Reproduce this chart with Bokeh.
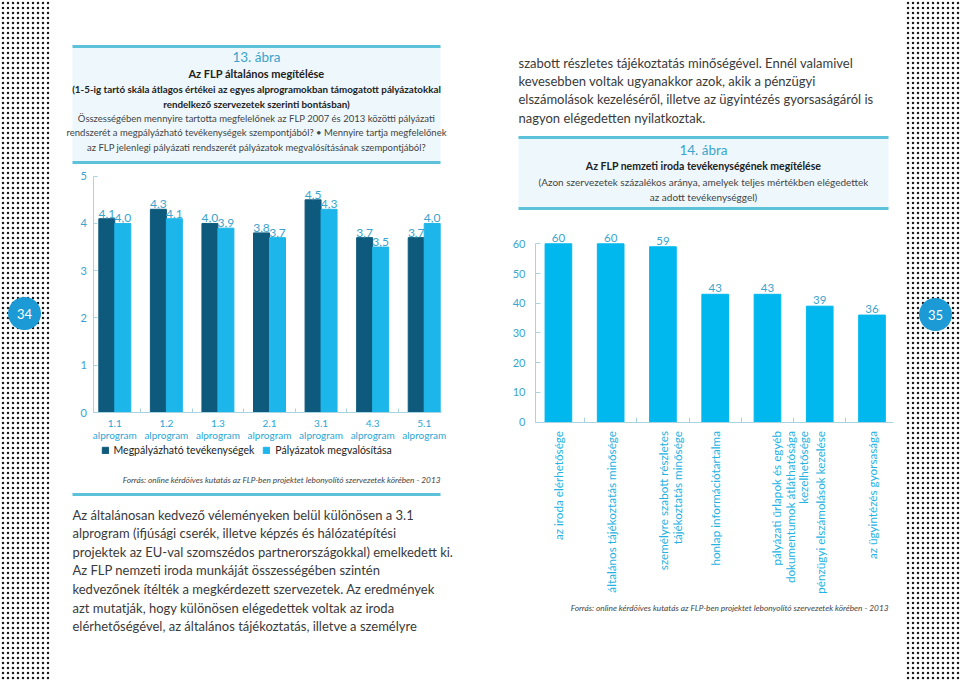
from math import pi
from bokeh.plotting import figure
from bokeh.models import Range1d, LinearAxis, FixedTicker, Legend, LegendItem, ColumnDataSource
from bokeh.core.properties import value
from bokeh.embed import file_html
from bokeh.resources import INLINE

# ---------------- data ----------------
chart1_categories = ["1.1\nalprogram", "1.2\nalprogram", "1.3\nalprogram", "2.1\nalprogram",
                     "3.1\nalprogram", "4.3\nalprogram", "5.1\nalprogram"]
chart1_series_names = ["Megpályázható tevékenységek", "Pályázatok megvalósítása"]
chart1_series_a = [4.1, 4.3, 4.0, 3.8, 4.5, 3.7, 3.7]
chart1_series_b = [4.0, 4.1, 3.9, 3.7, 4.3, 3.5, 4.0]
chart1_y_ticks = [0, 1, 2, 3, 4, 5]

chart2_categories = ["az iroda elérhetősége",
                     "általános tájékoztatás minősége",
                     "személyre szabott részletes\ntájékoztatás minősége",
                     "honlap információtartalma",
                     "pályázati űrlapok és egyéb\ndokumentumok átláthatósága\nkezelhetősége",
                     "pénzügyi elszámolások kezelése",
                     "az ügyintézés gyorsasága"]
chart2_values = [60, 60, 59, 43, 43, 39, 36]
chart2_y_ticks = [0, 10, 20, 30, 40, 50, 60]

header1_lines = ["13. ábra",
                 "Az FLP általános megítélése",
                 "(1-5-ig tartó skála átlagos értékei az egyes alprogramokban támogatott pályázatokkal",
                 "rendelkező szervezetek szerinti bontásban)",
                 "Összességében mennyire tartotta megfelelőnek az FLP 2007 és 2013 közötti pályázati",
                 "rendszerét a megpályázható tevékenységek szempontjából? • Mennyire tartja megfelelőnek",
                 "az FLP jelenlegi pályázati rendszerét pályázatok megvalósításának szempontjából?"]
header2_lines = ["14. ábra",
                 "Az FLP nemzeti iroda tevékenységének megítélése",
                 "(Azon szervezetek százalékos aránya, amelyek teljes mértékben elégedettek",
                 "az adott tevékenységgel)"]
source_text = "Forrás: online kérdőíves kutatás az FLP-ben projektet lebonyolító szervezetek körében - 2013"
left_paragraph = ["Az általánosan kedvező véleményeken belül különösen a 3.1",
                  "alprogram (ifjúsági cserék, illetve képzés és hálózatépítési",
                  "projektek az EU-val szomszédos partnerországokkal) emelkedett ki.",
                  "Az FLP nemzeti iroda munkáját összességében szintén",
                  "kedvezőnek ítélték a megkérdezett szervezetek. Az eredmények",
                  "azt mutatják, hogy különösen elégedettek voltak az iroda",
                  "elérhetőségével, az általános tájékoztatás, illetve a személyre"]
right_paragraph = ["szabott részletes tájékoztatás minőségével. Ennél valamivel",
                   "kevesebben voltak ugyanakkor azok, akik a pénzügyi",
                   "elszámolások kezeléséről, illetve az ügyintézés gyorsaságáról is",
                   "nagyon elégedetten nyilatkoztak."]
page_numbers = ["34", "35"]

# ---------------- styles ----------------
FONT_NAME = "Lato"
FONT = value(FONT_NAME)
DARK = "#0e5a7c"
LIGHT = "#1db6ea"
BAR2 = "#00b8ee"
LABEL_BLUE = "#3aa4cc"
AXIS_COL = "#a9d3e3"
TEAL_LINE = "#5cc2da"
BOX_BG = "#eef8fc"
TEXT_DARK = "#3a3a3a"

W, H = 960, 681
PX0, PY0 = 0, 0  # page position of the frame


def mapped_range(p1, v1, p2, v2, lo, hi):
    def f(p):
        return v1 + (p - p1) * (v2 - v1) / (p2 - p1)
    return Range1d(f(lo), f(hi)), f


p = figure(width=W, height=H, output_backend="svg", toolbar_location=None,
           x_range=Range1d(PX0, PX0 + W), y_range=Range1d(PY0 + H, PY0),
           x_axis_type=None, y_axis_type=None, min_border=0)
p.outline_line_color = None
p.background_fill_color = "white"
p.border_fill_color = "white"

# ---------------- decorations ----------------
p.quad(left=[PX0, 906], right=[50, PX0 + W], bottom=[PY0 + H] * 2, top=[PY0] * 2,
       fill_alpha=0, line_alpha=0, hatch_pattern="dot", hatch_scale=5,
       hatch_color="#1a1a1a", hatch_weight=1.2)
p.scatter(x=[24, 935], y=[313, 314], size=33, color="#1b9ad6", line_color=None)
p.text(x=[24, 935], y=[313, 314], text=page_numbers, text_align="center", text_baseline="middle",
       text_font=FONT, text_font_size="13px", text_color="white")

# header boxes
p.quad(left=[72, 518], right=[440, 888], top=[46, 137], bottom=[162, 208],
       fill_color=BOX_BG, line_color=None)
p.segment(x0=[72, 72, 518, 518], x1=[440, 440, 888, 888], y0=[46, 162, 137, 208],
          y1=[46, 162, 137, 208], line_color=TEAL_LINE, line_width=3)
p.segment(x0=[72], x1=[440], y0=[494], y1=[494], line_color=TEAL_LINE, line_width=3)

# header texts
h1_y = [56, 73, 88, 103, 117.5, 132, 147]
h1_size = ["13.5px", "11px", "9.8px", "9.8px", "9.5px", "9.5px", "9.5px"]
h1_style = ["normal", "bold", "bold", "bold", "normal", "normal", "normal"]
h1_col = [LABEL_BLUE, "#222", "#222", "#222", "#444", "#444", "#444"]
for t, y, s, st, c in zip(header1_lines, h1_y, h1_size, h1_style, h1_col):
    p.text(x=[256], y=[y], text=[t], text_align="center", text_baseline="middle",
           text_font=FONT, text_font_size=s, text_font_style=st, text_color=c)
h2_y = [149, 165, 181, 196]
h2_size = ["13.5px", "10.5px", "10px", "10px"]
h2_style = ["normal", "bold", "normal", "normal"]
h2_col = [LABEL_BLUE, "#222", "#444", "#444"]
for t, y, s, st, c in zip(header2_lines, h2_y, h2_size, h2_style, h2_col):
    p.text(x=[703], y=[y], text=[t], text_align="center", text_baseline="middle",
           text_font=FONT, text_font_size=s, text_font_style=st, text_color=c)

# paragraphs
p.text(x=[72] * len(left_paragraph), y=[514 + 18.6 * i for i in range(len(left_paragraph))],
       text=left_paragraph, text_align="left", text_baseline="middle",
       text_font=FONT, text_font_size="13px", text_color=TEXT_DARK)
p.text(x=[518] * len(right_paragraph), y=[62 + 18.4 * i for i in range(len(right_paragraph))],
       text=right_paragraph, text_align="left", text_baseline="middle",
       text_font=FONT, text_font_size="13px", text_color=TEXT_DARK)

# sources
p.text(x=[440, 888], y=[479, 607], text=[source_text, source_text], text_align="right",
       text_baseline="middle", text_font=FONT, text_font_size="8.3px",
       text_font_style="italic", text_color="#444")

# ---------------- chart 1 ----------------
r1y, _ = mapped_range(412, 0, 175.7, 5, PY0 + H, PY0)
r1x, f1x = mapped_range(114.3, 0, 423.7, 6, PX0, PX0 + W)
p.extra_y_ranges["c1y"] = r1y
p.extra_x_ranges["c1x"] = r1x
idx1 = list(range(len(chart1_categories)))
bw1 = 0.31
src1 = ColumnDataSource(dict(
    xa=[i - bw1 / 2 for i in idx1], xb=[i + bw1 / 2 for i in idx1],
    a=chart1_series_a, b=chart1_series_b,
    la=[f"{v:.1f}".replace(".", ",") for v in chart1_series_a],
    lb=[f"{v:.1f}".replace(".", ",") for v in chart1_series_b]))
ra = p.vbar(x="xa", top="a", bottom=0, width=bw1, source=src1, color=DARK,
            x_range_name="c1x", y_range_name="c1y")
rb = p.vbar(x="xb", top="b", bottom=0, width=bw1, source=src1, color=LIGHT,
            x_range_name="c1x", y_range_name="c1y")
for xc, yc, tc in (("xa", "a", "la"), ("xb", "b", "lb")):
    p.text(x=xc, y=yc, text=tc, source=src1, x_range_name="c1x", y_range_name="c1y",
           text_align="center", text_baseline="bottom", y_offset=-1,
           text_font=FONT, text_font_size="12px", text_color=LABEL_BLUE)

x1_lo, x1_hi = f1x(93.3), f1x(441)
ay1 = LinearAxis(x_range_name="c1x", y_range_name="c1y", fixed_location=x1_lo, bounds=(0, 5),
                 ticker=FixedTicker(ticks=chart1_y_ticks), major_tick_in=4, major_tick_out=0,
                 minor_tick_line_color=None, axis_line_color=AXIS_COL, major_tick_line_color=AXIS_COL,
                 major_label_standoff=7, major_label_text_font=FONT_NAME,
                 major_label_text_font_size="11px", major_label_text_color=LABEL_BLUE)
p.add_layout(ay1, "left")
ax1 = LinearAxis(x_range_name="c1x", y_range_name="c1y", fixed_location=0, bounds=(x1_lo, x1_hi),
                 ticker=FixedTicker(ticks=idx1),
                 major_label_overrides={i: c for i, c in zip(idx1, chart1_categories)},
                 major_tick_line_color=None, minor_tick_line_color=None, axis_line_color=AXIS_COL,
                 major_label_standoff=-2, major_label_text_font=FONT_NAME,
                 major_label_text_line_height=1.0,
                 major_label_text_font_size="10px", major_label_text_color="#2aa6d4")
p.add_layout(ax1, "below")
bnd1 = [i + 0.5 for i in idx1[:-1]]
ax1b = LinearAxis(x_range_name="c1x", y_range_name="c1y", fixed_location=0,
                  ticker=FixedTicker(ticks=bnd1), major_label_overrides={t: "" for t in bnd1},
                  axis_line_color=None, major_tick_in=4, major_tick_out=0,
                  major_tick_line_color=AXIS_COL, minor_tick_line_color=None)
p.add_layout(ax1b, "below")

legend = Legend(items=[LegendItem(label=chart1_series_names[0], renderers=[ra]),
                       LegendItem(label=chart1_series_names[1], renderers=[rb])],
                location=(100.5, PY0 + H - 457), orientation="horizontal",
                glyph_width=8, glyph_height=8, label_standoff=5, spacing=8,
                padding=0, margin=0, border_line_color=None, background_fill_alpha=0,
                label_text_font=FONT_NAME, label_text_font_size="10.5px", label_text_color="#222",
                label_height=14)
p.add_layout(legend)

# ---------------- chart 2 ----------------
r2y, _ = mapped_range(421.5, 0, 243.3, 60, PY0 + H, PY0)
r2x, f2x = mapped_range(557.9, 0, 871.5, 6, PX0, PX0 + W)
p.extra_y_ranges["c2y"] = r2y
p.extra_x_ranges["c2x"] = r2x
idx2 = list(range(len(chart2_categories)))
src2 = ColumnDataSource(dict(x=idx2, v=chart2_values, lbl=[str(v) for v in chart2_values]))
p.vbar(x="x", top="v", bottom=0, width=0.51, source=src2, color=BAR2,
       x_range_name="c2x", y_range_name="c2y")
p.text(x="x", y="v", text="lbl", source=src2, x_range_name="c2x", y_range_name="c2y",
       text_align="center", text_baseline="bottom", y_offset=-2,
       text_font=FONT, text_font_size="11.5px", text_color=LABEL_BLUE)

# rotated category labels: one text per line, lines stacked to the right
line_base = {1: 0.0, 2: 0.5, 3: 8.5}
lx, ly, lt, lo = [], [], [], []
for i, cat in zip(idx2, chart2_categories):
    parts = cat.split("\n")
    for k, line in enumerate(parts):
        lx.append(i)
        ly.append(0)
        lt.append(line)
        lo.append(13.6 * k + line_base[len(parts)])
src2l = ColumnDataSource(dict(x=lx, y=ly, t=lt, xo=lo))
p.text(x="x", y="y", text="t", x_offset="xo", source=src2l, x_range_name="c2x", y_range_name="c2y",
       angle=pi / 2, text_align="right", text_baseline="middle", y_offset=9,
       text_font=FONT, text_font_size="11.7px", text_color="#22b3e4")

x2_lo, x2_hi = f2x(535), f2x(893)
ay2 = LinearAxis(x_range_name="c2x", y_range_name="c2y", fixed_location=x2_lo, bounds=(0, 60),
                 ticker=FixedTicker(ticks=chart2_y_ticks), major_tick_in=5, major_tick_out=0,
                 minor_tick_line_color=None, axis_line_color=AXIS_COL, major_tick_line_color=AXIS_COL,
                 major_label_standoff=10, major_label_text_font=FONT_NAME,
                 major_label_text_font_size="11px", major_label_text_color=LABEL_BLUE)
p.add_layout(ay2, "left")
bnd2 = [i + 0.5 for i in idx2[:-1]]
ax2 = LinearAxis(x_range_name="c2x", y_range_name="c2y", fixed_location=0, bounds=(x2_lo, x2_hi),
                 ticker=FixedTicker(ticks=bnd2), major_label_overrides={t: "" for t in bnd2},
                 axis_line_color=AXIS_COL, major_tick_in=5, major_tick_out=0,
                 major_tick_line_color=AXIS_COL, minor_tick_line_color=None)
p.add_layout(ax2, "below")

open("out.html", "w").write(file_html(p, INLINE))
